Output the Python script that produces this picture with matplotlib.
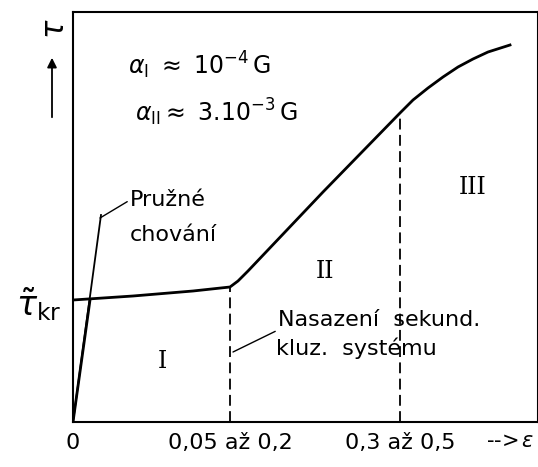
import numpy as np
import matplotlib.pyplot as plt

# shear stress vs. strain, single-crystal hardening stages (arbitrary units)
eps_curve = [0, 17, 60, 120, 157, 165, 175, 250, 327, 340, 355, 370, 385, 400, 415, 437]
tau_curve = [0, 122, 126, 131, 135, 141, 151, 230, 309, 322, 334, 345, 355, 363, 370, 377]

# elastic line, drawn past the knee
eps_elastic = [0, 28]
tau_elastic = [0, 207]

# critical resolved shear stress
tau_kr = 122
eps_stage_ends = [157, 327]
tau_stage_ends = [135, 309]

xtick_pos = [0, 157, 327]
xtick_labels = ["0", "0,05 až 0,2", "0,3 až 0,5"]

stage_labels = ["I", "II", "III"]
stage_pos = [(89, 60), (252, 150), (400, 235)]

plt.rcParams["font.family"] = ["DejaVu Sans"]

fig = plt.figure(figsize=(5.38, 4.67), dpi=100)
ax = fig.add_axes([73 / 538, 45 / 467, 465 / 538, 410 / 467])
ax.set_xlim(0, 465)
ax.set_ylim(0, 410)

for sp in ax.spines.values():
    sp.set_linewidth(1.5)
    sp.set_color("black")

# curve
ax.plot([0, eps_curve[1]], [0, tau_curve[1]], color="black", lw=2.0, solid_capstyle="round")
ax.plot(eps_elastic, tau_elastic, color="black", lw=1.3)
ax.plot([0] + eps_curve[2:], [tau_kr] + tau_curve[2:], color="black", lw=2.0,
        solid_joinstyle="round")

# stage boundaries
for x, y in zip(eps_stage_ends, tau_stage_ends):
    ax.plot([x, x], [0, y], color="black", lw=1.3, ls=(0, (6, 3)))

ax.set_xticks(xtick_pos, xtick_labels, fontsize=16)
ax.set_yticks([tau_kr], [r"$\tilde{\tau}_{\mathrm{kr}}$"], fontsize=24)
ax.tick_params(length=0, pad=8)

ax.text(461, -19, r"-->$\,\varepsilon$", fontsize=15, va="center", ha="right",
        clip_on=False)

# y axis arrow and symbol
ax.annotate("", xy=(-21, 367), xytext=(-21, 302), xycoords="data",
            arrowprops=dict(arrowstyle="-|>", color="black", lw=1.3, mutation_scale=14),
            annotation_clip=False)
ax.text(-18, 393, r"$\tau$", fontsize=22, rotation=90, ha="center", va="center",
        clip_on=False)

# material constants
ax.text(55, 357, r"$\alpha_{\mathrm{I}}\ \approx\ 10^{-4}\,\mathrm{G}$", fontsize=17,
        ha="left", va="center")
ax.text(62, 310, r"$\alpha_{\mathrm{II}}\approx\ 3.10^{-3}\,\mathrm{G}$", fontsize=17,
        ha="left", va="center")

# region numerals
for lab, (x, y) in zip(stage_labels, stage_pos):
    ax.text(x, y, lab, fontsize=17, family="DejaVu Serif", ha="center", va="center")

# annotations
ax.annotate("Pružné", xy=(27, 204), xytext=(57, 222), fontsize=16, ha="left", va="center",
            arrowprops=dict(arrowstyle="-", color="black", lw=1.0, shrinkA=0, shrinkB=0,
                            relpos=(0, 0.5)))
ax.text(57, 187, "chování", fontsize=16, ha="left", va="center")

ax.annotate("Nasazení  sekund.", xy=(160, 70), xytext=(205, 102), fontsize=16,
            ha="left", va="center",
            arrowprops=dict(arrowstyle="-", color="black", lw=1.0, shrinkA=0, shrinkB=0,
                            relpos=(0, 0.0)))
ax.text(203, 74, "kluz.  systému", fontsize=16, ha="left", va="center")

fig.savefig("out.png", dpi=100)
